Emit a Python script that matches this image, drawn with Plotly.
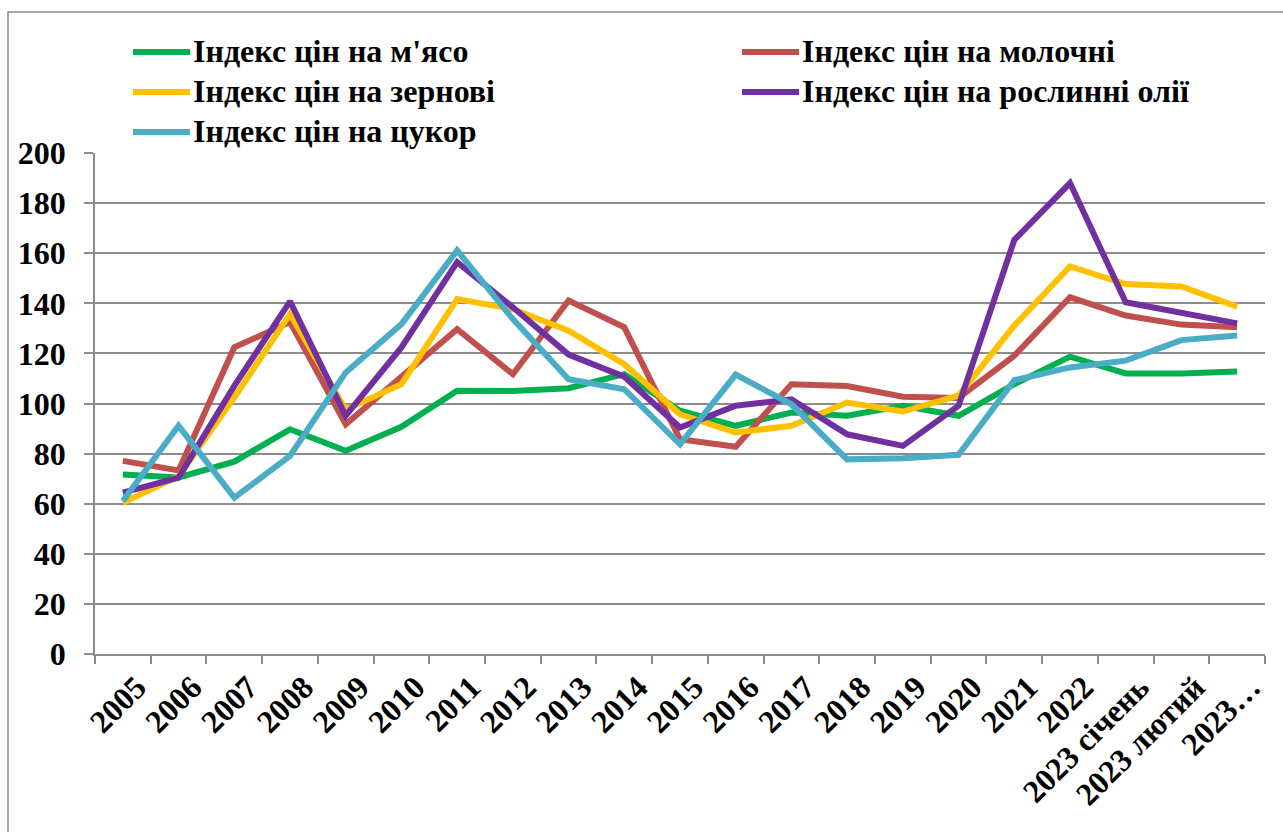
import plotly.graph_objects as go

# Categories (years, then months of 2023)
categories = ["2005", "2006", "2007", "2008", "2009", "2010", "2011", "2012",
              "2013", "2014", "2015", "2016", "2017", "2018", "2019", "2020",
              "2021", "2022", "2023 січень", "2023 лютий", "2023…"]

# FAO-style price indices
meat = [71.7, 70.5, 76.8, 89.7, 81.1, 90.7, 105.1, 105.0, 106.1, 111.7, 97.1,
        91.1, 96.4, 95.1, 99.1, 95.1, 107.7, 118.7, 112.0, 112.0, 112.8]
dairy = [77.1, 73.3, 122.4, 132.5, 91.7, 110.5, 129.7, 111.7, 141.1, 130.4, 85.7,
         82.7, 107.7, 107.0, 102.7, 102.2, 119.1, 142.4, 135.1, 131.5, 130.4]
grain = [60.4, 71.0, 102.4, 135.7, 97.5, 107.7, 141.7, 137.7, 129.1, 115.7, 95.7,
         88.4, 91.1, 100.4, 96.8, 103.1, 131.1, 154.7, 147.7, 146.7, 138.7]
oils = [64.4, 70.4, 107.0, 140.8, 95.1, 122.4, 156.4, 138.4, 119.5, 110.7, 90.4,
        99.1, 101.7, 87.7, 83.1, 99.1, 165.3, 188.0, 140.4, 136.4, 132.0]
sugar = [61.1, 91.1, 62.4, 79.1, 112.4, 131.7, 161.1, 133.7, 109.7, 105.7, 83.7,
         111.5, 99.7, 77.7, 78.1, 79.5, 109.3, 114.4, 117.1, 125.3, 127.1]

series_names = ["Індекс цін на м'ясо", "Індекс цін на молочні",
                "Індекс цін на зернові", "Індекс цін на рослинні олії",
                "Індекс цін на цукор"]
series_values = [meat, dairy, grain, oils, sugar]
colors = ["#00B050", "#C0504D", "#FFC000", "#7030A0", "#4BACC6"]

W, H = 1283, 832
L, R, T, B = 95, 18, 153, 178
PW, PH = W - L - R, H - T - B
FONT = "Liberation Serif"
GRAY = "#8C8C8C"


def px(x):
    return (x - L) / PW


def py(y):
    return (H - B - y) / PH


fig = go.Figure()
for name, vals, col in zip(series_names, series_values, colors):
    fig.add_trace(go.Scatter(x=categories, y=vals, mode="lines", name=name,
                             line=dict(color=col, width=6), showlegend=False))

shapes = [
    # outer chart frame
    dict(type="rect", xref="paper", yref="paper", x0=px(8), x1=px(1300),
         y0=py(900), y1=py(12), line=dict(color=GRAY, width=1.5),
         fillcolor="rgba(0,0,0,0)", layer="below"),
]
annotations = []

# legend laid out in two columns
legend_pos = [(133, 52), (742, 52), (133, 92), (742, 92), (133, 132)]
for (lx, ly), name, col in zip(legend_pos, series_names, colors):
    shapes.append(dict(type="line", xref="paper", yref="paper",
                       x0=px(lx), x1=px(lx + 57), y0=py(ly), y1=py(ly),
                       line=dict(color=col, width=6)))
    annotations.append(dict(text=name, xref="paper", yref="paper",
                            x=px(lx + 58), y=py(ly - 1), xanchor="left",
                            yanchor="middle", showarrow=False,
                            font=dict(family=FONT, size=32, color="black",
                                      weight="bold")))

fig.update_layout(
    width=W, height=H,
    margin=dict(l=L, r=R, t=T, b=B),
    paper_bgcolor="white", plot_bgcolor="white",
    shapes=shapes, annotations=annotations,
    xaxis=dict(type="category", range=[-0.5, len(categories) - 0.5],
               tickson="boundaries", ticks="outside", ticklen=8,
               tickcolor=GRAY, tickwidth=1.5, showgrid=False,
               showline=True, linecolor=GRAY, linewidth=1.5,
               tickangle=-45, ticklabelshift=14,
               tickfont=dict(family=FONT, size=32, color="black",
                             weight="bold")),
    yaxis=dict(range=[0, 200], dtick=20, ticks="outside", ticklen=9,
               tickcolor=GRAY, tickwidth=1.5, showgrid=True,
               gridcolor=GRAY, gridwidth=1.5, showline=True,
               linecolor=GRAY, linewidth=1.5, zeroline=False,
               ticklabelstandoff=12,
               tickfont=dict(family=FONT, size=32, color="black",
                             weight="bold")),
)

fig.write_html("out.html")
